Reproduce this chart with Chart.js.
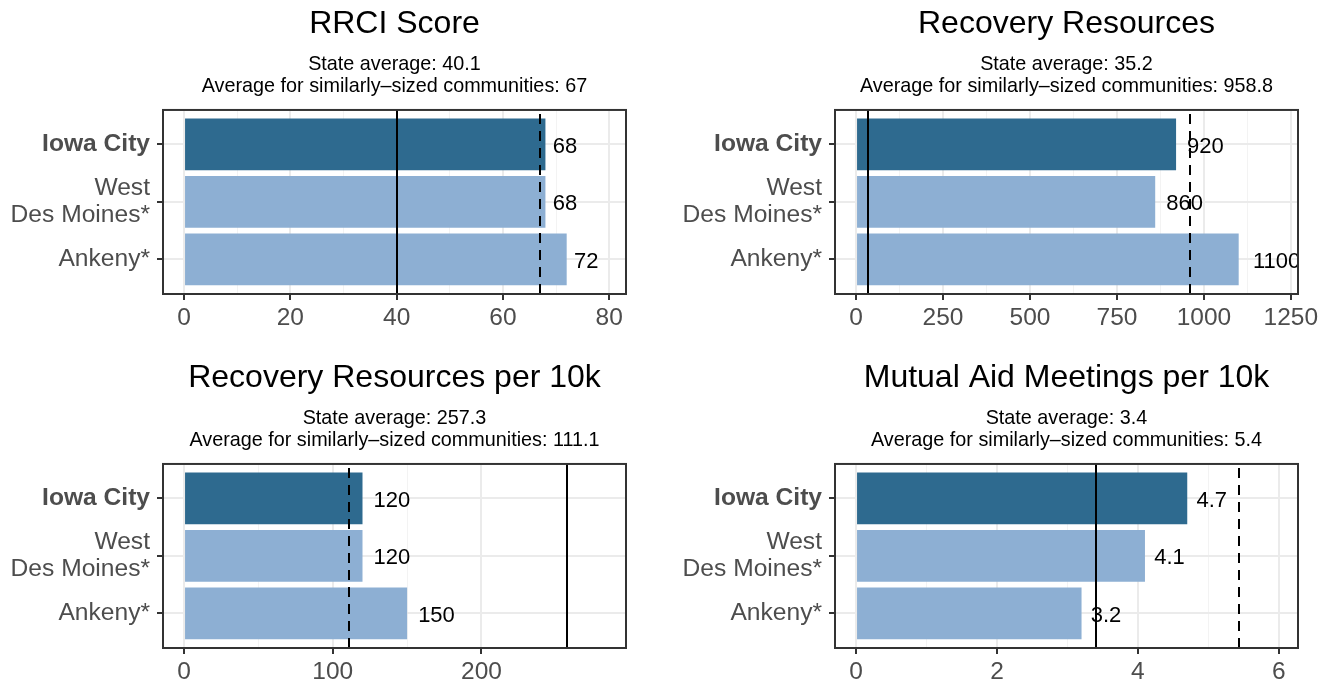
<!DOCTYPE html>
<html>
<head>
<meta charset="utf-8">
<script src="https://cdn.jsdelivr.net/npm/chart.js@4.4.1/dist/chart.umd.min.js"></script>
<style>
    body { margin: 0; background: #fff; overflow: hidden; width: 1330px; height: 683px; position: relative; }
    canvas { position: absolute; }
</style>
</head>
<body>
<canvas id="g1" width="665" height="340" style="left:0px;top:0px"></canvas>
<canvas id="g2" width="665" height="340" style="left:672px;top:0px"></canvas>
<canvas id="g3" width="665" height="340" style="left:0px;top:354px"></canvas>
<canvas id="g4" width="665" height="340" style="left:672px;top:354px"></canvas>
<script>
// datos
const ciudades = ['Iowa City', ['West', 'Des Moines*'], 'Ankeny*'];
const destacada = 0; // Iowa City

const titulos = ['RRCI Score', 'Recovery Resources', 'Recovery Resources per 10k', 'Mutual Aid Meetings per 10k'];

const rrci = [68, 68, 72];
const recursos = [920, 860, 1100];
const recursos10k = [120, 120, 150];
const reuniones10k = [4.7, 4.1, 3.2];

const promEstado = [40.1, 35.2, 257.3, 3.4];
const promSimilar = [67, 958.8, 111.1, 5.43];

const ticksRrci = [0, 20, 40, 60, 80];
const ticksRecursos = [0, 250, 500, 750, 1000, 1250];
const ticksRecursos10k = [0, 100, 200];
const ticksReuniones = [0, 2, 4, 6];

const FUENTE = "'Liberation Sans', Arial, Helvetica, sans-serif";
Chart.defaults.font.family = FUENTE;

const COLOR_OSCURO = '#2E6A8F';
const COLOR_CLARO = '#8DAFD3';

// lineas de promedio, etiquetas y borde del panel
const extrasPanel = {
    id: 'extrasPanel',
    afterDatasetsDraw(chart, args, opts) {
        const { ctx, chartArea: a, scales: { x } } = chart;
        ctx.save();
        ctx.beginPath();
        ctx.rect(a.left, a.top, a.width, a.height);
        ctx.clip();

        ctx.strokeStyle = '#000';
        ctx.lineWidth = 2;
        let px = Math.round(x.getPixelForValue(opts.estado));
        ctx.beginPath(); ctx.moveTo(px, a.top); ctx.lineTo(px, a.bottom); ctx.stroke();

        ctx.setLineDash([10, 7]);
        px = Math.round(x.getPixelForValue(opts.similar));
        ctx.beginPath(); ctx.moveTo(px, a.bottom); ctx.lineTo(px, a.top); ctx.stroke();
        ctx.setLineDash([]);

        ctx.font = '22px ' + FUENTE;
        ctx.fillStyle = '#000';
        ctx.textAlign = 'left';
        ctx.textBaseline = 'middle';
        const meta = chart.getDatasetMeta(0);
        meta.data.forEach((barra, i) => {
            const txt = String(chart.data.datasets[0].data[i].x);
            const w = ctx.measureText(txt).width;
            ctx.fillText(txt, barra.x + w * 0.3, barra.y + 2);
        });
        ctx.restore();
    },
    afterDraw(chart) {
        const { ctx, chartArea: a } = chart;
        ctx.save();
        ctx.strokeStyle = '#333333';
        ctx.lineWidth = 2;
        ctx.strokeRect(a.left, a.top, a.width, a.height);
        ctx.restore();
    }
};

function crearPanel(id, titulo, valores, estado, similar, ticksX) {
    const mayor = Math.max(...valores, estado, similar) * 1.1;
    const menores = ticksX.slice(0, -1).map((t, i) => (t + ticksX[i + 1]) / 2);
    const todos = ticksX.concat(menores).sort((a, b) => a - b);
    const esMayor = v => ticksX.includes(v);
    const redondeo = v => Math.round(v * 10) / 10;

    new Chart(document.getElementById(id), {
        type: 'bar',
        data: {
            datasets: [{
                data: valores.map((v, i) => ({ x: v, y: i + 1 })),
                backgroundColor: valores.map((v, i) => i === destacada ? COLOR_OSCURO : COLOR_CLARO),
                borderWidth: 0,
                barPercentage: 0.9,
                categoryPercentage: 1
            }]
        },
        options: {
            indexAxis: 'y',
            responsive: false,
            animation: false,
            layout: { padding: { left: 0, right: 39, top: 0, bottom: 0 } },
            plugins: {
                legend: { display: false },
                tooltip: { enabled: false },
                title: {
                    display: true, text: titulo, fullSize: false, color: '#000',
                    font: { size: 32, weight: 'normal', lineHeight: 1.2 },
                    padding: { top: 5, bottom: 0 }
                },
                subtitle: {
                    display: true, fullSize: false, color: '#000',
                    text: ['State average: ' + redondeo(estado), 'Average for similarly\u2013sized communities: ' + redondeo(similar)],
                    font: { size: 19.8, weight: 'normal', lineHeight: 1.1 },
                    padding: { top: 10, bottom: 13 }
                },
                extrasPanel: { estado: estado, similar: similar }
            },
            scales: {
                x: {
                    type: 'linear',
                    min: -0.05 * mayor,
                    max: 1.05 * mayor,
                    afterBuildTicks: s => { s.ticks = todos.map(v => ({ value: v })); },
                    afterFit: s => { s.height = 46; },
                    border: { display: false },
                    grid: {
                        color: c => esMayor(c.tick.value) ? '#EBEBEB' : '#F3F3F3',
                        lineWidth: c => esMayor(c.tick.value) ? 2 : 1,
                        tickColor: c => esMayor(c.tick.value) ? '#333333' : 'rgba(0,0,0,0)',
                        tickLength: 6,
                        tickWidth: 2
                    },
                    ticks: {
                        autoSkip: false, maxRotation: 0, padding: 4,
                        color: '#4D4D4D',
                        font: { size: 24.5 },
                        callback: v => esMayor(v) ? String(v) : ''
                    }
                },
                y: {
                    type: 'linear',
                    reverse: true,
                    min: 0.4,
                    max: 3.6,
                    offset: false,
                    afterBuildTicks: s => { s.ticks = ciudades.map((c, i) => ({ value: i + 1 })); },
                    afterFit: s => { s.width = 163; },
                    border: { display: false },
                    grid: {
                        offset: false,
                        color: '#EBEBEB',
                        lineWidth: 2,
                        tickColor: '#333333',
                        tickLength: 6,
                        tickWidth: 2
                    },
                    ticks: {
                        padding: 7,
                        color: '#4D4D4D',
                        font: c => ({ size: 24.6, lineHeight: 1.1, weight: (c.tick && c.tick.value === destacada + 1) ? 'bold' : 'normal' }),
                        callback: v => ciudades[Math.round(v) - 1]
                    }
                }
            }
        },
        plugins: [extrasPanel]
    });
}

crearPanel('g1', titulos[0], rrci, promEstado[0], promSimilar[0], ticksRrci);
crearPanel('g2', titulos[1], recursos, promEstado[1], promSimilar[1], ticksRecursos);
crearPanel('g3', titulos[2], recursos10k, promEstado[2], promSimilar[2], ticksRecursos10k);
crearPanel('g4', titulos[3], reuniones10k, promEstado[3], promSimilar[3], ticksReuniones);
</script>
</body>
</html>
